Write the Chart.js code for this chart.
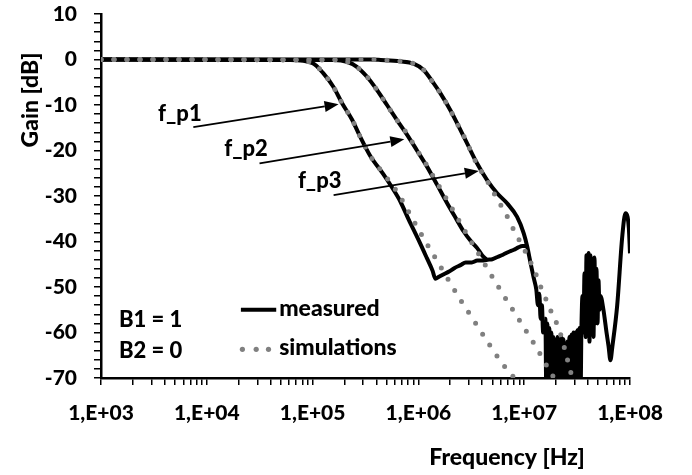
<!DOCTYPE html>
<html>
<head>
<meta charset="utf-8">
<script src="https://cdn.jsdelivr.net/npm/chart.js@4.4.0/dist/chart.umd.min.js"></script>
<style>
  html, body { margin: 0; padding: 0; background: #fff; }
</style>
</head>
<body>
<canvas id="chart" width="692" height="475"></canvas>
<script>
// measured, curve 1 (Hz / dB)
const m1Freq = [1e3, 6.1e4, 1.0e5, 1.26e5, 1.57e5, 1.9e5, 2.37e5, 2.82e5, 3.51e5, 4.66e5, 5.66e5, 6.75e5, 8.1e5, 1.0e6, 1.2e6, 1.36e6, 1.45e6, 1.55e6, 1.7e6, 1.95e6, 2.2e6, 2.5e6, 2.8e6, 3.2e6, 3.6e6, 4.0e6, 4.5e6, 5.0e6, 5.6e6, 6.3e6, 7.1e6, 8.0e6, 8.8e6, 9.6e6, 1.05e7];
const m1Gain = [0, -0.1, -0.8, -3, -6, -9.6, -13.3, -17, -21.2, -25.2, -28.2, -31.2, -35.2, -39.6, -43.6, -46.4, -48.2, -47.8, -47.3, -46.6, -45.8, -45.2, -44.6, -44.6, -44.2, -44.2, -44.0, -43.9, -43.4, -42.9, -42.3, -41.8, -41.3, -41.0, -41.0];

// measured, curve 2
const m2Freq = [1e3, 1.6e5, 2.11e5, 2.62e5, 3.27e5, 4.06e5, 5.05e5, 6.27e5, 7.8e5, 9.7e5, 1.21e6, 1.5e6, 1.87e6, 2.3e6, 2.68e6, 3.1e6, 3.58e6, 4.0e6, 4.4e6];
const m2Gain = [0, -0.1, -0.5, -1.6, -3.8, -6.7, -10, -13.3, -16.5, -20, -23.6, -27.5, -31.6, -35.2, -37.8, -39.8, -41.4, -43, -44.0];

// measured, curve 3 (with the noisy tail)
const m3Freq = [1e3, 3.5e5, 4.4e5, 6.75e5, 9.0e5, 1.12e6, 1.39e6, 1.61e6, 2.0e6, 2.32e6, 2.88e6, 3.58e6, 4.46e6, 5.55e6, 6.89e6, 8.57e6, 9.9e6, 1.07e7, 1.15e7, 1.23e7, 1.3e7, 1.35e7, 1.39e7, 1.43e7, 1.47e7, 1.51e7, 1.55e7,
  1.585e7, 1.622e7, 1.656e7, 1.694e7, 1.73e7, 1.77e7, 1.807e7, 1.849e7, 1.888e7, 1.932e7, 1.972e7, 2.018e7, 2.061e7, 2.104e7, 2.153e7, 2.198e7, 2.249e7, 2.296e7, 2.35e7, 2.399e7, 2.455e7, 2.506e7, 2.559e7, 2.618e7, 2.673e7, 2.735e7, 2.793e7, 2.858e7, 2.917e7, 2.985e7, 3.048e7, 3.119e7, 3.184e7, 3.258e7, 3.327e7, 3.404e7, 3.475e7,
  3.556e7, 3.631e7, 3.715e7, 3.793e7, 3.882e7, 3.963e7, 4.055e7, 4.14e7, 4.227e7, 4.325e7, 4.416e7, 4.519e7, 4.613e7, 4.721e7, 4.819e7, 4.932e7, 5.035e7, 5.152e7, 5.26e7,
  5.61e7, 6.0e7, 6.27e7, 6.53e7, 6.82e7, 7.57e7, 8.44e7, 9.06e7, 9.46e7, 9.75e7, 1.0e8];
const m3Gain = [0, 0, -0.1, -0.4, -0.9, -2.3, -5.2, -7.4, -11.1, -14, -18.4, -22.8, -26.5, -29.4, -31.6, -34.6, -38.2, -41.2, -44.8, -48, -50.5, -54, -51.5, -57, -54, -60, -57,
  -57, -76, -58, -75, -59, -76, -60, -74, -61, -76, -62, -75, -61, -76, -62, -74, -61, -76, -61.5, -75, -62.5, -76, -62, -75, -61, -76, -60.5, -74, -60, -76, -60, -75, -59.5, -76, -59, -75, -59,
  -52, -60, -47, -61, -43, -59, -42.5, -62, -43, -56, -44, -61, -43.5, -58, -46, -58, -48.5, -55, -52,
  -55, -60, -63, -66.1, -63, -54, -39, -33.8, -34.5, -37, -42.6];

// simulations
const s1Freq = [1e3, 6.1e4, 1.0e5, 1.26e5, 1.57e5, 1.9e5, 2.37e5, 2.82e5, 3.51e5, 4.66e5, 5.66e5, 6.5e5, 8.69e5, 1.16e6, 1.55e6, 2.45e6, 3.33e6, 4.61e6, 6.4e6, 7.69e6, 9.5e6];
const s1Gain = [0, -0.1, -0.8, -3, -6, -9.6, -13.3, -17, -21.2, -25, -27.6, -29.6, -34.8, -39.9, -44.8, -52.5, -57.3, -62.4, -67.2, -69.4, -72.5];
const s2Freq = [1e3, 1.6e5, 2.11e5, 2.62e5, 3.27e5, 4.06e5, 5.05e5, 6.27e5, 7.8e5, 9.7e5, 1.21e6, 1.61e6, 2.15e6, 2.88e6, 3.86e6, 5.22e6, 7.13e6, 9.77e6, 1.32e7, 1.77e7, 2.1e7];
const s2Gain = [0, -0.1, -0.5, -1.6, -3.8, -6.7, -10, -13.3, -16.3, -19.9, -23.4, -28.3, -33.3, -38.5, -43.4, -48.5, -53.6, -58.6, -63.5, -68.7, -71.5];
const s3Freq = [1e3, 3.5e5, 4.4e5, 6.75e5, 9.0e5, 1.12e6, 1.39e6, 1.61e6, 2.0e6, 2.32e6, 2.8e6, 3.58e6, 4.2e6, 4.89e6, 5.61e6, 6.5e6, 7.4e6, 8.43e6, 9.77e6, 1.1e7, 1.25e7, 1.37e7, 1.55e7, 1.74e7, 1.97e7, 2.25e7, 2.5e7, 2.75e7, 3.0e7];
const s3Gain = [0, 0, -0.1, -0.4, -0.9, -2.3, -5.2, -7.4, -11.1, -14, -17.7, -23.0, -25.6, -28.3, -30.9, -33.3, -35.9, -38.6, -41.2, -43.7, -46.3, -48.9, -51.8, -54.7, -57.3, -61, -65, -68.7, -72];

// axes
const xMajorTicks = [1e3, 1e4, 1e5, 1e6, 1e7, 1e8];
const xTickLabels = ['1,E+03', '1,E+04', '1,E+05', '1,E+06', '1,E+07', '1,E+08'];
const yMajorTicks = [10, 0, -10, -20, -30, -40, -50, -60, -70];

// annotations (data coordinates)
const poleLabels = ['f_p1', 'f_p2', 'f_p3'];
const poleLabelAt = [[3.46e3, -13.5], [1.46e4, -21.2], [7.26e4, -28.2]];
const arrowFrom = [[7.46e3, -14.85], [3.15e4, -22.83], [1.58e5, -29.8]];
const arrowTo = [[1.76e5, -9.85], [7.36e5, -17.55], [3.72e6, -24.5]];

// band where the noise floor reads as a solid block
const noiseBand = [1.55e7, 3.48e7];

const xAllTicks = [];
xMajorTicks.forEach((d, i) => {
  xAllTicks.push(d);
  if (i < xMajorTicks.length - 1) {
    for (let k = 2; k <= 9; k++) xAllTicks.push(d * k);
  }
});

const pts = (fs, gs) => fs.map((f, i) => ({ x: f, y: gs[i] }));

const FONT = 'Lato, "Liberation Sans", sans-serif';
const W = 900;

const measured = (data) => ({
  data, borderColor: '#000', borderWidth: 4, pointRadius: 0,
  cubicInterpolationMode: 'monotone', borderJoinStyle: 'round', order: 1
});
const simulated = (data) => ({
  data, borderColor: '#808080', borderWidth: 5, pointRadius: 0,
  borderDash: [0, 13], borderCapStyle: 'round', cubicInterpolationMode: 'monotone', order: 0
});

const m3Set = measured(pts(m3Freq, m3Gain));
m3Set.fill = { value: -70 };
m3Set.backgroundColor = 'rgba(0,0,0,0)';
m3Set.segment = {
  backgroundColor: (c) => (c.p0.parsed.x >= noiseBand[0] && c.p1.parsed.x <= noiseBand[1] ? '#000' : 'rgba(0,0,0,0)')
};

// arrows, labels, legend and axis titles
const overlay = {
  id: 'overlay',
  afterDatasetsDraw(chart) {
    const { ctx, chartArea, scales: { x, y } } = chart;
    const px = (f) => x.getPixelForValue(f);
    const py = (g) => y.getPixelForValue(g);
    ctx.save();
    ctx.fillStyle = '#000';
    ctx.strokeStyle = '#000';

    // arrows
    arrowFrom.forEach((a, i) => {
      const x0 = px(a[0]), y0 = py(a[1]);
      const x1 = px(arrowTo[i][0]), y1 = py(arrowTo[i][1]);
      const ang = Math.atan2(y1 - y0, x1 - x0);
      const head = 14, half = 5.5;
      ctx.lineWidth = 1.8;
      ctx.beginPath();
      ctx.moveTo(x0, y0);
      ctx.lineTo(x1 - head * Math.cos(ang), y1 - head * Math.sin(ang));
      ctx.stroke();
      ctx.beginPath();
      ctx.moveTo(x1, y1);
      ctx.lineTo(x1 - head * Math.cos(ang) - half * Math.sin(ang), y1 - head * Math.sin(ang) + half * Math.cos(ang));
      ctx.lineTo(x1 - head * Math.cos(ang) + half * Math.sin(ang), y1 - head * Math.sin(ang) - half * Math.cos(ang));
      ctx.closePath();
      ctx.fill();
    });

    ctx.font = W + ' 22px ' + FONT;
    ctx.textAlign = 'left';
    ctx.textBaseline = 'alphabetic';
    poleLabels.forEach((t, i) => ctx.fillText(t, px(poleLabelAt[i][0]), py(poleLabelAt[i][1])));

    ctx.fillText('B1 = 1', px(1.48e3), py(-58.8));
    ctx.fillText('B2 = 0', px(1.48e3), py(-65.6));

    // legend
    ctx.lineWidth = 4;
    ctx.beginPath();
    ctx.moveTo(px(2.1e4), py(-55));
    ctx.lineTo(px(4.53e4), py(-55));
    ctx.stroke();
    ctx.font = W + ' 23px ' + FONT;
    ctx.fillText('measured', px(4.83e4), py(-56.3));
    ctx.fillStyle = '#808080';
    [2.17e4, 2.93e4, 3.83e4].forEach((f) => {
      ctx.beginPath();
      ctx.arc(px(f), py(-63.7), 2.6, 0, Math.PI * 2);
      ctx.fill();
    });
    ctx.fillStyle = '#000';
    ctx.fillText('simulations', px(4.83e4), py(-65));

    // axis titles
    ctx.font = W + ' 23px ' + FONT;
    ctx.textAlign = 'center';
    ctx.fillText('Frequency [Hz]', chartArea.right - 123, chartArea.bottom + 87);
    ctx.translate(chartArea.left - 63, chartArea.top + 86);
    ctx.rotate(-Math.PI / 2);
    ctx.fillText('Gain [dB]', 0, 0);
    ctx.restore();
  }
};

new Chart(document.getElementById('chart'), {
  type: 'line',
  data: {
    datasets: [
      simulated(pts(s1Freq, s1Gain)),
      simulated(pts(s2Freq, s2Gain)),
      simulated(pts(s3Freq, s3Gain)),
      measured(pts(m1Freq, m1Gain)),
      measured(pts(m2Freq, m2Gain)),
      m3Set
    ]
  },
  options: {
    responsive: false,
    animation: false,
    layout: { padding: { left: 0, top: 14, right: 62, bottom: 0 } },
    plugins: { legend: { display: false }, tooltip: { enabled: false } },
    scales: {
      x: {
        type: 'logarithmic',
        min: 1e3,
        max: 1e8,
        afterBuildTicks: (scale) => { scale.ticks = xAllTicks.map((v) => ({ value: v })); },
        afterFit: (scale) => { scale.height = 97; scale.paddingLeft = 0; scale.paddingRight = 0; },
        ticks: {
          autoSkip: false,
          maxRotation: 0,
          padding: 16,
          color: '#000',
          font: { family: FONT, size: 21, weight: W },
          callback: (v) => {
            const i = xMajorTicks.indexOf(v);
            return i >= 0 ? xTickLabels[i] : '';
          }
        },
        grid: { drawOnChartArea: false, drawTicks: true, tickLength: 7, color: '#000', lineWidth: 1.5 },
        border: { color: '#000', width: 2.5 }
      },
      y: {
        min: -70,
        max: 10,
        afterFit: (scale) => { scale.width = 101; scale.paddingTop = 0; scale.paddingBottom = 0; },
        ticks: {
          stepSize: 2,
          autoSkip: false,
          padding: 17,
          color: '#000',
          font: { family: FONT, size: 21, weight: W },
          callback: (v) => (yMajorTicks.includes(v) ? String(v) : '')
        },
        grid: { drawOnChartArea: false, drawTicks: true, tickLength: 7, color: '#000', lineWidth: 1.5 },
        border: { color: '#000', width: 2.5 }
      }
    }
  },
  plugins: [overlay]
});
</script>
</body>
</html>
